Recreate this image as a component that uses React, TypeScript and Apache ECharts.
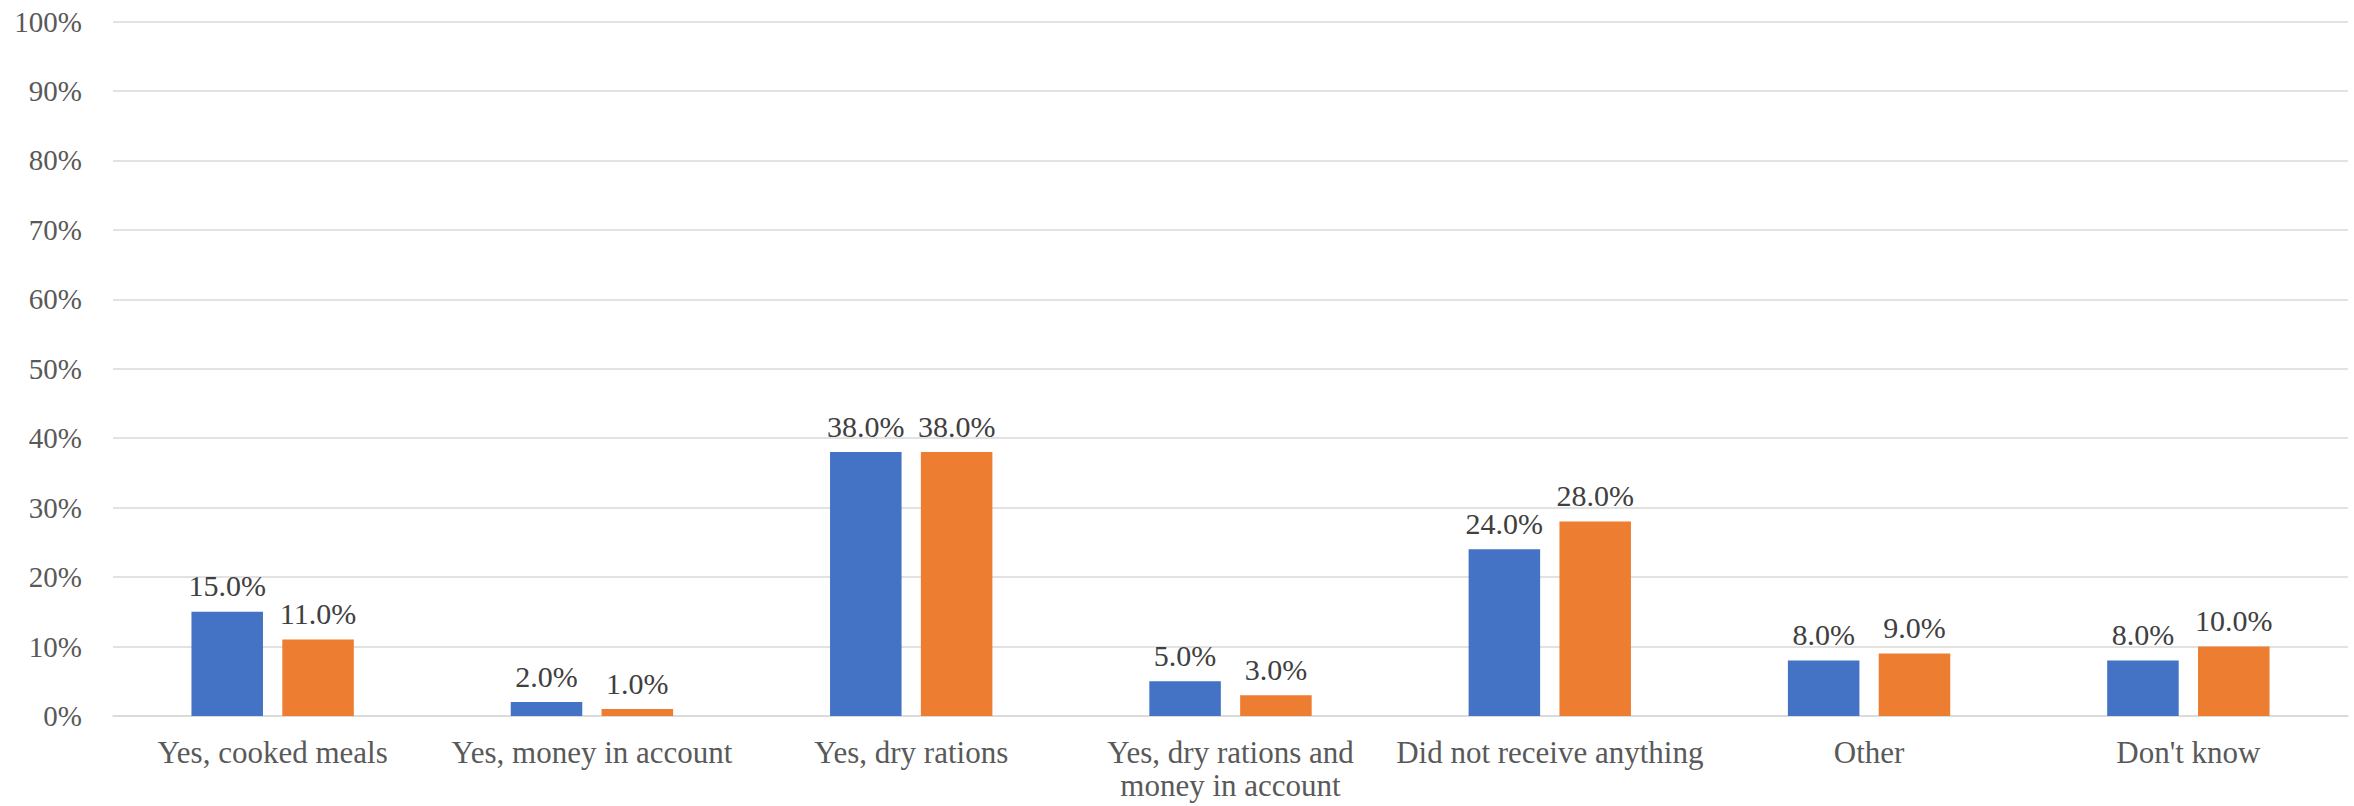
import React, { useEffect, useRef } from "react";
import * as echarts from "echarts";

const categories = [
  "Yes, cooked meals",
  "Yes, money in account",
  "Yes, dry rations",
  "Yes, dry rations and\nmoney in account",
  "Did not receive anything",
  "Other",
  "Don't know",
];
const seriesNames = ["Series 1", "Series 2"];
const series1 = [15, 2, 38, 5, 24, 8, 8];
const series2 = [11, 1, 38, 3, 28, 9, 10];
const yTicks = [0, 10, 20, 30, 40, 50, 60, 70, 80, 90, 100];

const FONT = "Liberation Serif, Times New Roman, serif";

export default function App() {
  const ref = useRef<HTMLDivElement>(null);
  useEffect(() => {
    document.body.style.margin = "0";
    if (!ref.current) return;
    const chart = echarts.init(ref.current, undefined, { renderer: "svg" });
    const labelCfg = {
      show: true,
      position: "top",
      distance: 11,
      fontFamily: FONT,
      fontSize: 30,
      color: "#404040",
      formatter: (p: any) => p.value.toFixed(1) + "%",
    };
    chart.setOption({
      animation: false,
      backgroundColor: "#ffffff",
      grid: {
        left: 113,
        right: 6,
        top: 21.5,
        bottom: 90,
        containLabel: false,
        outerBoundsMode: "none",
      },
      xAxis: {
        type: "category",
        data: categories,
        axisLine: { show: true, lineStyle: { color: "#d9d9d9", width: 1.5 } },
        axisTick: { show: false },
        axisLabel: {
          interval: 0,
          margin: 20,
          fontFamily: FONT,
          fontSize: 31,
          lineHeight: 33,
          color: "#595959",
        },
      },
      yAxis: {
        type: "value",
        min: yTicks[0],
        max: yTicks[yTicks.length - 1],
        interval: 10,
        axisLine: { show: false },
        axisTick: { show: false },
        splitLine: { show: true, lineStyle: { color: "#d9d9d9", width: 1.5 } },
        axisLabel: {
          margin: 31,
          fontFamily: FONT,
          fontSize: 29,
          color: "#595959",
          formatter: (v: number) => v + "%",
        },
      },
      series: [
        {
          name: seriesNames[0],
          type: "bar",
          data: series1,
          barWidth: "22.4%",
          barGap: "27%",
          itemStyle: { color: "#4472C4" },
          label: labelCfg,
        },
        {
          name: seriesNames[1],
          type: "bar",
          data: series2,
          barWidth: "22.4%",
          barGap: "27%",
          itemStyle: { color: "#ED7D31" },
          label: labelCfg,
        },
      ],
    });
    return () => chart.dispose();
  }, []);
  return <div ref={ref} style={{ width: 2354, height: 806 }} />;
}
